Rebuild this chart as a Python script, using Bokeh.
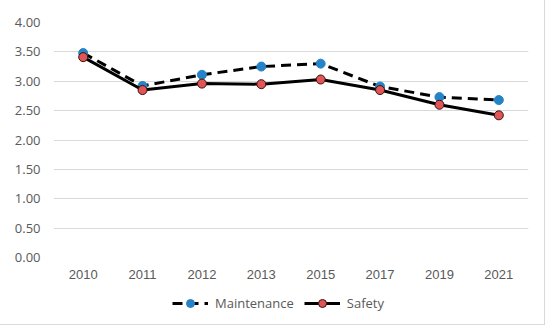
from bokeh.plotting import figure
from bokeh.models import (FixedTicker, NumeralTickFormatter,
                          Legend, LegendItem, ColumnDataSource)
from bokeh.layouts import column
from bokeh.embed import file_html
from bokeh.resources import INLINE

years = ["2010", "2011", "2012", "2013", "2015", "2017", "2019", "2021"]
maintenance = [3.48, 2.92, 3.11, 3.25, 3.30, 2.91, 2.73, 2.68]
safety = [3.41, 2.85, 2.96, 2.95, 3.03, 2.85, 2.60, 2.42]
y_ticks = [0, 0.5, 1.0, 1.5, 2.0, 2.5, 3.0, 3.5, 4.0]

src = ColumnDataSource(dict(x=years, m=maintenance, s=safety))

W = 544
p = figure(width=W, height=285, output_backend="svg", toolbar_location=None,
           x_range=years, y_range=(0, 4.0),
           min_border_left=53, min_border_right=16, min_border_top=22, min_border_bottom=28)
p.outline_line_color = None

p.xgrid.grid_line_color = None
p.ygrid.grid_line_color = "#d9d9d9"
p.ygrid.grid_line_width = 1

p.yaxis.ticker = FixedTicker(ticks=y_ticks)
p.yaxis.formatter = NumeralTickFormatter(format="0.00")
for ax in (p.xaxis[0], p.yaxis[0]):
    ax.axis_line_color = None
    ax.major_tick_line_color = None
    ax.minor_tick_line_color = None
    ax.major_label_text_color = "#595959"
    ax.major_label_text_font_size = "13px"
p.yaxis.major_label_text_font = "Open Sans"
p.xaxis.major_label_text_font = "Liberation Sans"
p.yaxis.major_label_standoff = 7
p.xaxis.major_label_standoff = 6

line_m = dict(line_color="black", line_width=3, line_dash="10 6")
dot_m = dict(size=9, fill_color="#2583c6", line_color="#2583c6")
line_s = dict(line_color="black", line_width=3)
dot_s = dict(size=9, fill_color="#e05555", line_color="#3a1010", line_width=1)

p.line("x", "m", source=src, **line_m)
p.scatter("x", "m", source=src, **dot_m)
p.line("x", "s", source=src, **line_s)
p.scatter("x", "s", source=src, **dot_s)

# legend strip below the chart (same series, drawn out of view; only legend shows)
lf = figure(width=W, height=39, output_backend="svg", toolbar_location=None,
            x_range=years, y_range=(10, 11), x_axis_location=None, y_axis_location=None,
            min_border_left=0, min_border_right=0, min_border_top=0, min_border_bottom=0)
lf.outline_line_color = None
lf.xgrid.grid_line_color = None
lf.ygrid.grid_line_color = None
lm = lf.line("x", "m", source=src, **line_m)
cm = lf.scatter("x", "m", source=src, **dot_m)
ls = lf.line("x", "s", source=src, **line_s)
cs = lf.scatter("x", "s", source=src, **dot_s)

legend = Legend(items=[LegendItem(label="Maintenance", renderers=[lm, cm]),
                       LegendItem(label="Safety", renderers=[ls, cs])],
                orientation="horizontal", location=(119, 11),
                border_line_color=None, background_fill_alpha=0,
                glyph_width=36, label_standoff=7, spacing=10, padding=0, margin=0,
                label_text_font="Open Sans", label_text_font_size="13px",
                label_text_color="#595959")
lf.add_layout(legend, "center")

layout = column(p, lf, spacing=0)
layout.styles = {"outline": "1px solid #d9d9d9"}

open("out.html", "w").write(file_html(layout, INLINE))
